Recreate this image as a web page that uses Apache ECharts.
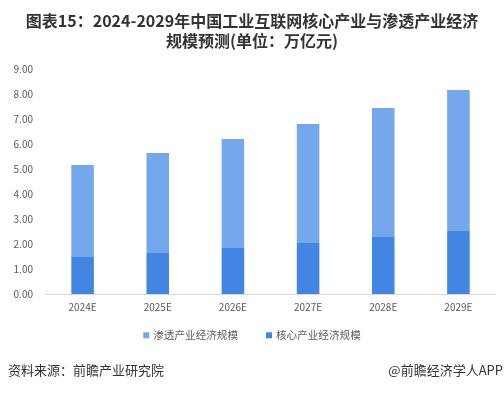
<!DOCTYPE html>
<html><head><meta charset="utf-8">
<script src="https://cdn.jsdelivr.net/npm/echarts@6/dist/echarts.min.js"></script>
<style>html,body{margin:0;padding:0;background:#fff}#c{width:504px;height:393px}</style>
</head><body><div id="c"></div>
<script>
const categories = ['2024E','2025E','2026E','2027E','2028E','2029E'];
const coreValues = [1.48, 1.64, 1.84, 2.04, 2.28, 2.52];
const penetrationValues = [3.68, 4.00, 4.36, 4.76, 5.16, 5.64];
const seriesNames = ['渗透产业经济规模','核心产业经济规模'];
const chart = echarts.init(document.getElementById('c'));
chart.setOption({
  animation:false,
  backgroundColor:'#fff',
  title:{
    text:'图表15：2024-2029年中国工业互联网核心产业与渗透产业经济\n规模预测(单位：万亿元)',
    left:'center', top:6,
    textStyle:{fontFamily:'Noto Sans CJK SC',fontSize:16,fontWeight:'bold',color:'#333',lineHeight:20}
  },
  grid:{left:45,right:8,top:69,bottom:99,containLabel:false},
  legend:{
    data:seriesNames, top:325, left:'center', itemWidth:6, itemHeight:6, itemGap:28,
    icon:'rect',
    textStyle:{fontFamily:'Noto Sans CJK SC',fontSize:10.6,color:'#595959',padding:[0,0,0,-1]}
  },
  xAxis:{
    type:'category', data:categories,
    axisLine:{lineStyle:{color:'#d9d9d9'}}, axisTick:{show:false},
    axisLabel:{fontFamily:'Noto Sans CJK SC',fontSize:10,color:'#595959',margin:8}
  },
  yAxis:{
    type:'value', min:0, max:9, interval:1,
    splitLine:{show:false}, axisLine:{show:false}, axisTick:{show:false},
    axisLabel:{fontFamily:'Noto Sans CJK SC',fontSize:10,color:'#595959',formatter:v=>v.toFixed(2),margin:12}
  },
  series:[
    {name:seriesNames[1],type:'bar',stack:'a',data:coreValues,barWidth:'30%',itemStyle:{color:'#4285e2'}},
    {name:seriesNames[0],type:'bar',stack:'a',data:penetrationValues,barWidth:'30%',itemStyle:{color:'#74a7ec'}}
  ],
  graphic:[
    {type:'text',left:8,top:364,style:{text:'资料来源：前瞻产业研究院',font:'13px "Noto Sans CJK SC"',fill:'#333'}},
    {type:'text',right:1,top:364,style:{text:'@前瞻经济学人APP',font:'13px "Noto Sans CJK SC"',fill:'#333'}}
  ]
});
</script></body></html>
